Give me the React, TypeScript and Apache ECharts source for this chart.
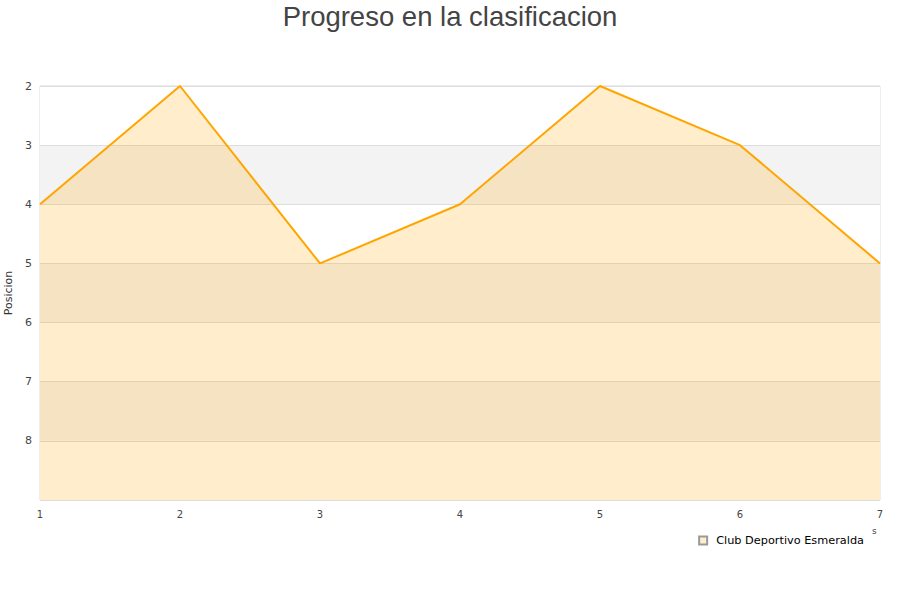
import React, { useEffect, useRef } from "react";
import * as echarts from "echarts";

const jornadas = ["1", "2", "3", "4", "5", "6", "7"];
const posiciones = [4, 2, 5, 4, 2, 3, 5];
const serieNombre = "Club Deportivo Esmeralda";
const titulo = "Progreso en la clasificacion";

const FONT = "'DejaVu Sans', sans-serif";

export default function App() {
  const ref = useRef<HTMLDivElement>(null);
  useEffect(() => {
    if (!ref.current) return;
    const chart = echarts.init(ref.current, undefined, { renderer: "svg" });
    chart.setOption({
      animation: false,
      title: {
        text: titulo,
        left: "center",
        top: -3,
        textStyle: { fontSize: 27.5, fontWeight: "normal", color: "#444", fontFamily: "'Liberation Sans', Arial, sans-serif" },
      },
      grid: {
        left: 40, right: 20, top: 86, bottom: 100,
        outerBoundsMode: "none",
        containLabel: false,
        show: true, borderColor: "#ddd", borderWidth: 1, backgroundColor: "transparent",
      },
      legend: {
        data: [{ name: serieNombre, icon: "rect" }],
        right: 31,
        top: 530,
        itemWidth: 8,
        itemHeight: 8,
        itemGap: 10,
        textStyle: { fontSize: 11.3, color: "#000", fontFamily: FONT, padding: [0, 0, 0, 4] },
      },
      xAxis: {
        type: "category",
        data: jornadas,
        boundaryGap: false,
        axisLine: { show: false },
        axisTick: { show: false },
        axisLabel: { fontSize: 10, color: "#444", margin: 9, fontFamily: FONT },
        splitLine: { show: false },
      },
      yAxis: {
        type: "value",
        inverse: true,
        min: 2,
        max: 9,
        interval: 1,
        name: "Posicion",
        nameLocation: "middle",
        nameGap: 22,
        nameTextStyle: { fontSize: 11, color: "#333", fontFamily: FONT },
        axisLine: { show: false },
        axisTick: { show: false },
        axisLabel: {
          fontSize: 11,
          color: "#444",
          margin: 8,
          fontFamily: FONT,
          formatter: (v: number) => (v === 9 ? "" : String(v)),
        },
        splitLine: { show: true, lineStyle: { color: "#ddd", width: 1 } },
        splitArea: { show: true, areaStyle: { color: ["#ffffff", "#f3f3f3"] } },
      },
      graphic: [
        { type: "text", left: 872, top: 526, style: { text: "s", fontSize: 9, fill: "#444", fontFamily: FONT } },
      ],
      series: [
        {
          name: serieNombre,
          type: "line",
          data: posiciones,
          showSymbol: false,
          symbol: "none",
          lineStyle: { color: "#ffa500", width: 2 },
          itemStyle: { color: "#ffeecc", borderColor: "#999", borderWidth: 1 },
          areaStyle: { color: "rgba(255,165,0,0.2)", opacity: 1, origin: "end" },
        },
      ],
    });
    return () => chart.dispose();
  }, []);
  return <div ref={ref} style={{ width: 900, height: 600, position: "absolute", left: 0, top: 0 }} />;
}
